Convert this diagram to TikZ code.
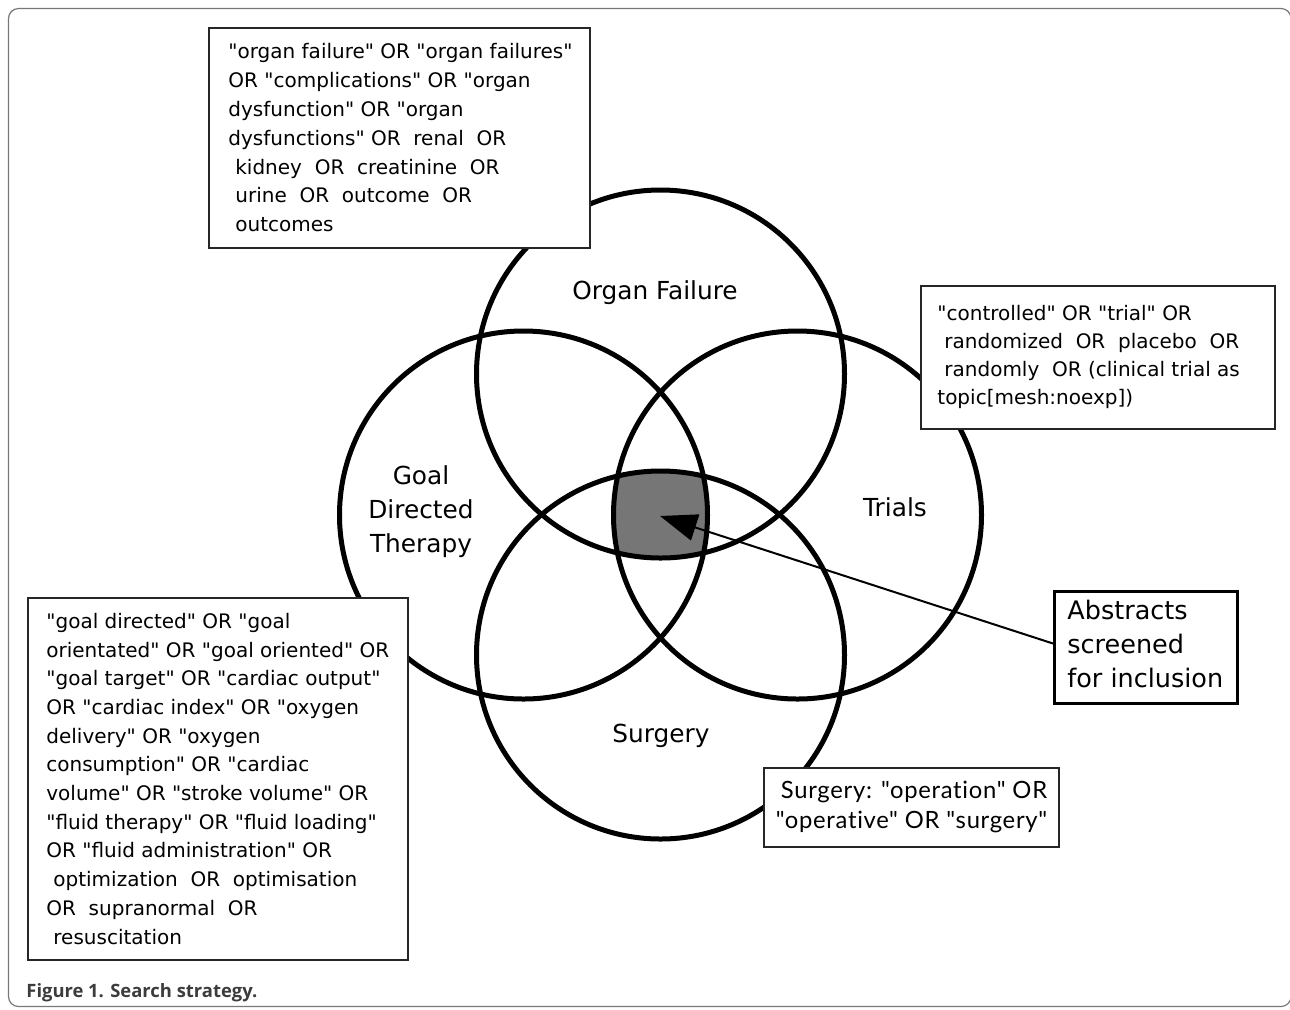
\documentclass[tikz,border=0pt]{standalone}
\usepackage{fontspec}
\setmainfont{DejaVu Sans}[Ligatures=TeXOff]
\newfontfamily\gillfont[LetterSpace=3,Ligatures=NoCommon]{Lato}
\newfontfamily\capfont{Open Sans}
\usetikzlibrary{arrows.meta}
\definecolor{shadegray}{RGB}{118,118,118}
\definecolor{framegray}{RGB}{120,120,120}
\definecolor{capgray}{RGB}{60,60,60}
\newcommand\qsp{\hspace*{0.35em}}
\begin{document}
\begin{tikzpicture}[x=0.5pt,y=-0.5pt,
  venn/.style={line width=2.5pt},
  qbox/.style={draw=black!85, line width=0.75pt, fill=white, inner sep=0pt, anchor=north west},
  qtext/.style={align=left, anchor=west, inner sep=0pt, font=\fontsize{10}{14.4}\selectfont},
  clabel/.style={align=center, inner sep=0pt, font=\fontsize{12.4}{17}\selectfont},
]
\useasboundingbox (0,0) rectangle (1290,1009);
\draw[framegray, line width=0.6pt, rounded corners=5pt] (8.5,8.5) rectangle (1291,1006.5);

% circle centres
\coordinate (oc) at (660.5,374);
\coordinate (gc) at (523.5,515);
\coordinate (tc) at (797.5,515);
\coordinate (sc) at (660.5,655);

% shaded common region
\begin{scope}
  \clip (oc) circle[radius=184];
  \clip (gc) circle[radius=184];
  \clip (tc) circle[radius=184];
  \fill[shadegray] (sc) circle[radius=184];
\end{scope}

\draw[venn] (oc) circle[radius=184];
\draw[venn] (gc) circle[radius=184];
\draw[venn] (tc) circle[radius=184];
\draw[venn] (sc) circle[radius=184];

% circle labels
\node[clabel] (ofl) at (655,293) {Organ Failure};
\node[clabel] (gdl) at (421,512) {Goal\\Directed\\Therapy};
\node[clabel] (trl) at (895,507) {Trials};
\node[clabel] (sgl) at (661,736) {Surgery};

% arrow
\coordinate (tip) at (660,516);
\node[draw=black, line width=1.5pt, fill=white, inner sep=0pt, anchor=north west,
      minimum width=91.5pt, minimum height=56pt] (abbox) at (1053,590) {};
\node[align=left, anchor=west, inner sep=0pt, font=\fontsize{12.75}{17}\selectfont]
  (abtext) at ([xshift=7pt,yshift=2pt]abbox.west) {Abstracts\\screened\\for inclusion};
\draw[line width=1pt, -{Triangle[length=18.5pt,width=13.5pt]}] ([yshift=2pt]abbox.west) -- (tip);

% organ failure box
\node[qbox, minimum width=190.5pt, minimum height=110pt] (ofbox) at (208,27) {};
\node[qtext] (oftext) at ([xshift=10pt]ofbox.west) {%
"organ failure" OR "organ failures"\\
OR "complications" OR "organ\\
dysfunction" OR "organ\\
dysfunctions" OR\ \ renal\ \ OR\\
\qsp kidney\ \ OR\ \ creatinine\ \ OR\\
\qsp urine\ \ OR\ \ outcome\ \ OR\\
\qsp outcomes};

% trials box
\node[qbox, minimum width=177pt, minimum height=71.5pt] (trbox) at (920,285) {};
\node[qtext, font=\fontsize{10}{14}\selectfont] (trtext) at ([xshift=8.5pt]trbox.west) {%
"controlled" OR "trial" OR\\
\qsp randomized\ \ OR\ \ placebo\ \ OR\\
\qsp randomly\ \ OR (clinical trial as\\
topic[mesh:noexp])};

% goal directed box
\node[qbox, minimum width=190pt, minimum height=181pt] (gdbox) at (27,597) {};
\node[qtext, font=\fontsize{10}{14.35}\selectfont] (gdtext) at ([xshift=9.5pt]gdbox.west) {%
"goal directed" OR "goal\\
orientated" OR "goal oriented" OR\\
"goal target" OR "cardiac output"\\
OR "cardiac index" OR "oxygen\\
delivery" OR "oxygen\\
consumption" OR "cardiac\\
volume" OR "stroke volume" OR\\
"fluid therapy" OR "fluid loading"\\
OR "fluid administration" OR\\
\qsp optimization\ \ OR\ \ optimisation\\
OR\ \ supranormal\ \ OR\\
\qsp resuscitation};

% surgery box
\node[qbox, minimum width=147.5pt, minimum height=39.5pt] (sgbox) at (763,767) {};
\node[align=right, anchor=east, inner sep=0pt, font=\gillfont\fontsize{11.9}{15}\selectfont]
  (sgtext) at ([xshift=-6pt]sgbox.east) {Surgery: "operation" OR\\"operative" OR "surgery"};

% caption
\node[anchor=base west, inner sep=0pt, text=capgray,
      font=\capfont\bfseries\fontsize{9.2}{11}\selectfont] (cap) at (26,997) {Figure 1. Search strategy.};
\end{tikzpicture}
\end{document}
